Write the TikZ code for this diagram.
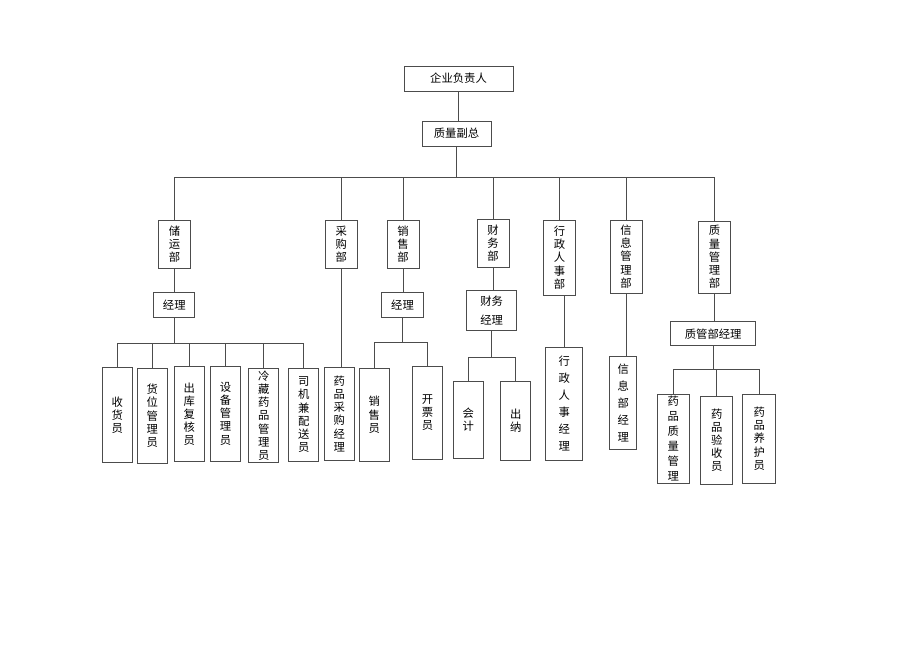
\documentclass[tikz,border=0pt]{standalone}
\usepackage{fontspec}
\newfontfamily\cjk{Noto Sans CJK SC}
\tikzset{
  box/.style={draw=black!70, line width=0.6pt, inner sep=0pt, align=center,
    font=\cjk\fontsize{8.5}{9.9}\selectfont},
  largo/.style={font=\cjk\fontsize{8.5}{12.75}\selectfont},
  medio/.style={font=\cjk\fontsize{8.5}{11.2}\selectfont},
  dim/.style 2 args={minimum width=#1*0.75pt, minimum height=#2*0.75pt},
  filo/.style={draw=black!70, line width=0.6pt}
}
\begin{document}
\begin{tikzpicture}[x=0.75pt, y=-0.75pt]
    \useasboundingbox (0,0) rectangle (920,651);
    % Vertice
    \node[box, dim={109}{25}] (capo) at (458.5,78.5) {企业负责人};
    \node[box, dim={69}{25}] (vice) at (456.5,133.5) {质量副总};
    \draw[filo] (capo.south) -- (capo.south |- vice.north);

    % Reparti
    \foreach \nome/\x/\y/\h/\testo in {
        chuyun/174.5/244/48/{储\\运\\部},
        caigou/341.3/244/48/{采\\购\\部},
        xiaoshou/403/244/48/{销\\售\\部},
        caiwu/493/243/48/{财\\务\\部},
        xingzheng/559.5/257.5/75/{行\\政\\人\\事\\部},
        xinxi/626/256.5/73/{信\\息\\管\\理\\部},
        zhiliang/714.5/257/72/{质\\量\\管\\理\\部}}{
        \node[box, dim={32}{\h}] (\nome) at (\x,\y) {\testo};
    }
    \draw[filo] (vice.south) -- ++(0,31) coordinate (bus);
    \foreach \nome in {chuyun,caigou,xiaoshou,caiwu,xingzheng,xinxi,zhiliang}
        \draw[filo] (bus) -| (\nome.north);

    % Responsabili
    \node[box, dim={41}{25}] (cyjl) at (174.3,305) {经理};
    \node[box, dim={42}{25}] (xsjl) at (402.5,304.8) {经理};
    \node[box, dim={50}{40}, medio] (cwjl) at (491.7,310.8) {财务\\[3pt]经理};
    \node[box, dim={85}{24}] (zljl) at (713.2,333.8) {质管部经理};
    \draw[filo] (chuyun.south) -- (chuyun.south |- cyjl.north);
    \draw[filo] (xiaoshou.south) -- (xiaoshou.south |- xsjl.north);
    \draw[filo] (caiwu.south) -- (caiwu.south |- cwjl.north);
    \draw[filo] (zhiliang.south) -- (zhiliang.south |- zljl.north);

    % Magazzino
    \foreach \nome/\x/\y/\h/\testo in {
        shouhuo/117.3/415/95/{收\\货\\员},
        huowei/152.3/415.8/95/{货\\位\\管\\理\\员},
        chuku/189.3/414.2/95/{出\\库\\复\\核\\员},
        shebei/225.5/413.5/95/{设\\备\\管\\理\\员},
        lengcang/263.8/415.5/94/{冷\\藏\\药\\品\\管\\理\\员},
        siji/303.7/414.7/93/{司\\机\\兼\\配\\送\\员}}{
        \node[box, dim={30}{\h}] (\nome) at (\x,\y) {\testo};
    }
    \draw[filo] (cyjl.south) -- ++(0,25) coordinate (cybus);
    \foreach \nome in {shouhuo,huowei,chuku,shebei,lengcang,siji}
        \draw[filo] (cybus) -| (\nome.north);

    % Acquisti e vendite
    \node[box, dim={30}{93}] (cgjl) at (339.2,413.7) {药\\品\\采\\购\\经\\理};
    \draw[filo] (caigou.south) -- (caigou.south |- cgjl.north);
    \node[box, dim={30}{93}] (xsy) at (374.3,414.7) {销\\售\\员};
    \node[box, dim={30}{93}] (kpy) at (427.5,412.7) {开\\票\\员};
    \draw[filo] (xsjl.south) -- ++(0,25) coordinate (xsbus);
    \foreach \nome in {xsy,kpy}
        \draw[filo] (xsbus) -| (\nome.north);

    % Finanza
    \node[box, dim={30}{77}] (kuaiji) at (468.3,420) {会\\计};
    \node[box, dim={30}{79}] (chuna) at (515.8,420.5) {出\\纳};
    \draw[filo] (cwjl.south) -- ++(0,26) coordinate (cwbus);
    \foreach \nome in {kuaiji,chuna}
        \draw[filo] (cwbus) -| (\nome.north);

    % Personale e informatica
    \node[box, dim={37}{113}, largo] (xzjl) at (564.3,403.7) {行\\政\\人\\事\\经\\理};
    \draw[filo] (xzjl.north) -- (xzjl.north |- xingzheng.south);
    \node[box, dim={27}{93}, largo] (xxjl) at (623.3,403.3) {信\\息\\部\\经\\理};
    \draw[filo] (xinxi.south) -- (xinxi.south |- xxjl.north);

    % Qualita
    \node[box, dim={32}{89}, medio] (ypzl) at (673.3,438.7) {药\\品\\质\\量\\管\\理};
    \node[box, dim={32}{88}] (ypys) at (716.7,440.2) {药\\品\\验\\收\\员};
    \node[box, dim={33}{89}] (ypyh) at (759.2,438.7) {药\\品\\养\\护\\员};
    \draw[filo] (zljl.south) -- ++(0,23) coordinate (zlbus);
    \foreach \nome in {ypzl,ypys,ypyh}
        \draw[filo] (zlbus) -| (\nome.north);
\end{tikzpicture}
\end{document}
